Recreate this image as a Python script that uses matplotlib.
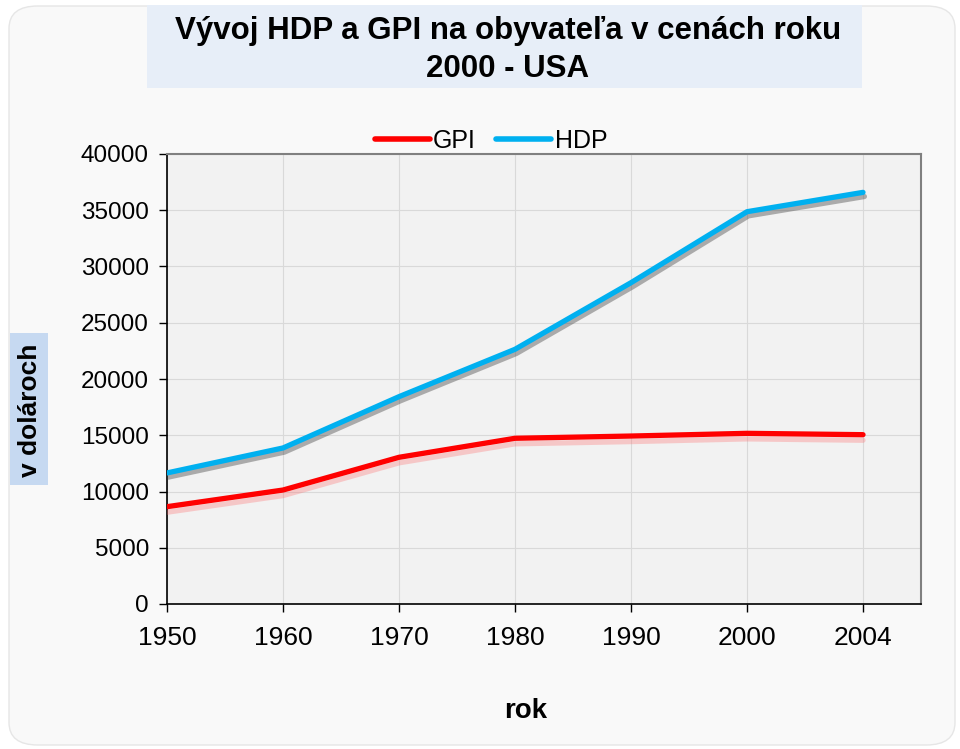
import matplotlib.pyplot as plt
import matplotlib.patheffects as pe
from matplotlib.patches import FancyBboxPatch, Rectangle
import numpy as np

plt.rcParams['font.family'] = ['Liberation Sans', 'DejaVu Sans']

years = ['1950', '1960', '1970', '1980', '1990', '2000', '2004']
gpi = [8650, 10130, 13040, 14730, 14930, 15170, 15050]
hdp = [11650, 13870, 18430, 22640, 28560, 34870, 36590]
yticks = [0, 5000, 10000, 15000, 20000, 25000, 30000, 35000, 40000]

W, H = 960, 749
fig = plt.figure(figsize=(W / 100, H / 100), dpi=100)
fig.patch.set_facecolor('white')

# rounded slide background
bg = FancyBboxPatch((9 / W, 4 / H), (W - 14) / W, (H - 10) / H,
                    boxstyle='round,pad=0,rounding_size=0.03',
                    transform=fig.transFigure, facecolor='#f9f9f9',
                    edgecolor='#e6e6e6', linewidth=1, zorder=-2)
fig.patches.append(bg)

# title box
fig.patches.append(Rectangle((147 / W, 1 - 88 / H), (862 - 147) / W, 83 / H,
                             transform=fig.transFigure, facecolor='#e7eef8',
                             edgecolor='none', zorder=-1))
fig.text(508 / W, 1 - 50 / H, 'Vývoj HDP a GPI na obyvateľa v cenách roku\n2000 - USA',
         ha='center', va='center', fontsize=22.5, fontweight='bold',
         linespacing=1.38, zorder=2)

# y label box
fig.patches.append(Rectangle((10 / W, 1 - 485 / H), 38 / W, 152 / H,
                             transform=fig.transFigure, facecolor='#c6d9f1',
                             edgecolor='none', zorder=-1))
fig.text(30 / W, 1 - 410 / H, 'v dolároch', rotation=90, ha='center', va='center',
         fontsize=19, fontweight='bold', zorder=2)

fig.text(526 / W, 1 - 711 / H, 'rok', ha='center', va='center',
         fontsize=20, fontweight='bold')

ax = fig.add_axes([167 / W, 1 - 604 / H, (921 - 167) / W, (604 - 154) / H])
ax.set_zorder(1)
ax.set_facecolor('#f2f2f2')

x = np.arange(len(years))
red_fx = [pe.SimpleLineShadow(offset=(0, -4), shadow_color='#ff6666', alpha=0.3),
          pe.Normal()]
blue_fx = [pe.SimpleLineShadow(offset=(1, -3), shadow_color='#404040', alpha=0.4),
           pe.Normal()]
ax.plot(x, gpi, color='#ff0000', lw=3.8, label='GPI', solid_capstyle='round',
        path_effects=red_fx, zorder=3)
ax.plot(x, hdp, color='#00b0f0', lw=3.8, label='HDP', solid_capstyle='round',
        path_effects=blue_fx, zorder=3)

ax.set_xlim(0, len(years) - 0.5)
ax.set_ylim(0, 40000)
ax.set_xticks(x)
ax.set_xticklabels(years)
ax.set_yticks(yticks)
ax.tick_params(axis='x', labelsize=19, length=6, width=1, pad=10)
ax.tick_params(axis='y', labelsize=17.5, length=6, width=1, pad=7)
ax.grid(True, color='#d9d9d9', lw=0.8)
ax.set_axisbelow(True)
for s in ['left', 'bottom']:
    ax.spines[s].set_color('black')
    ax.spines[s].set_linewidth(1.2)
for s in ['top', 'right']:
    ax.spines[s].set_color('#808080')
    ax.spines[s].set_linewidth(1.5)

leg = fig.legend(loc='center', bbox_to_anchor=(491 / W, 1 - 141 / H), ncol=2,
                 frameon=False, fontsize=18, handlelength=2.2, handletextpad=0.15,
                 columnspacing=0.8)
leg.set_zorder(3)
for line in leg.get_lines():
    line.set_linewidth(4)
    line.set_path_effects([])

fig.savefig('out.png', dpi=100, facecolor=fig.get_facecolor())
